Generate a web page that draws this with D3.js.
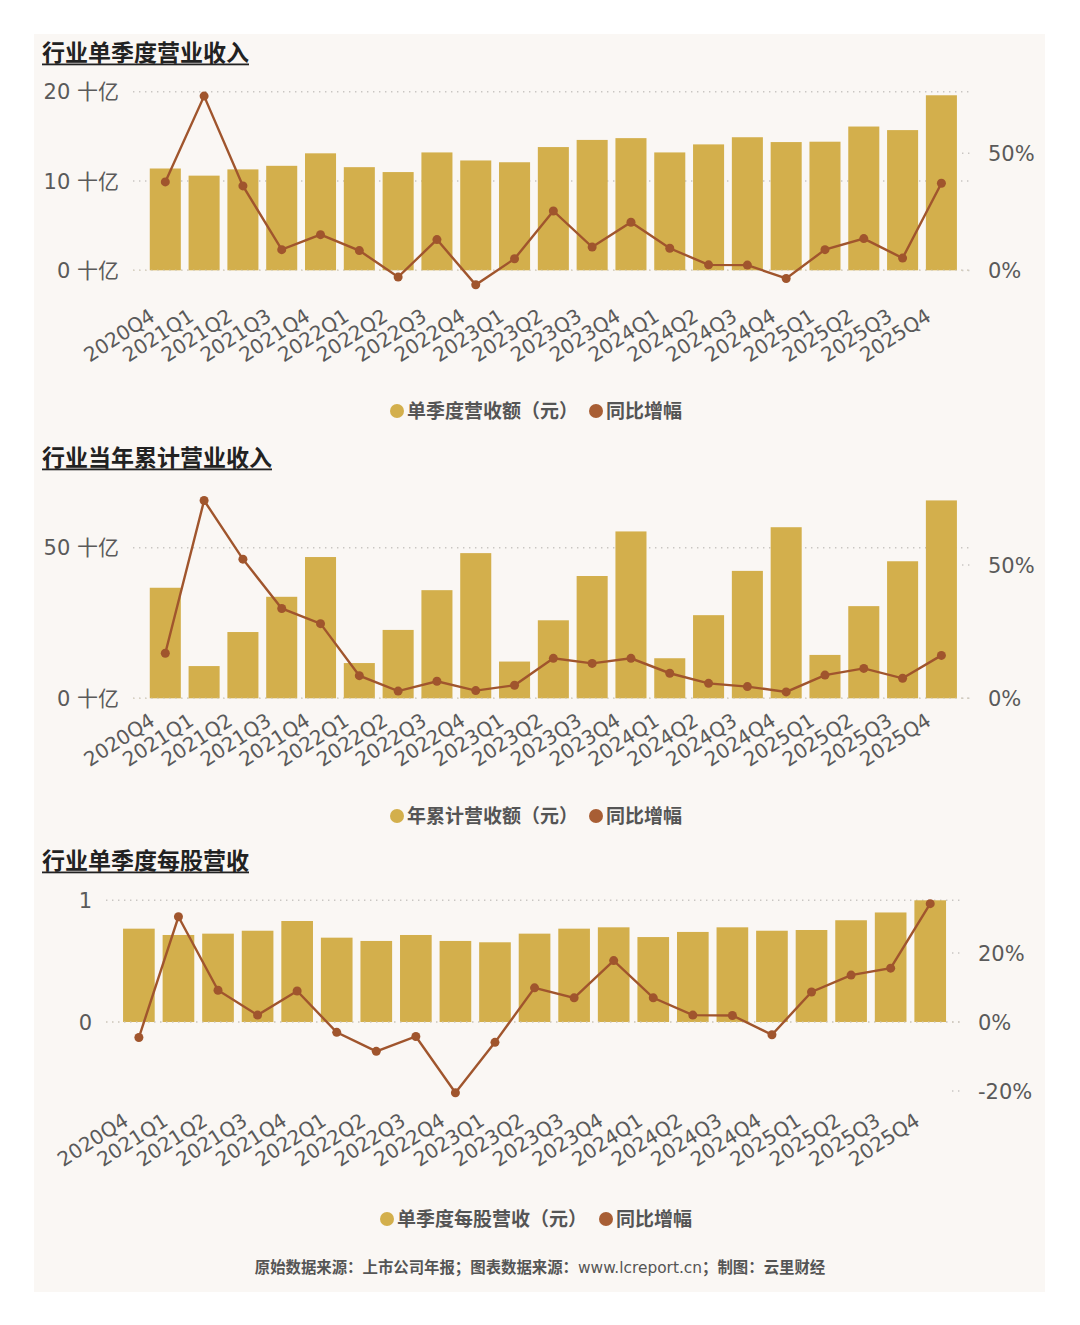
<!DOCTYPE html>
<html>
<head>
<meta charset="utf-8">
<script src="https://cdn.jsdelivr.net/npm/d3@7"></script>
<style>
  html, body { margin: 0; padding: 0; background: #ffffff; }
  svg { display: block; }
</style>
</head>
<body>
<svg id="chart" width="1080" height="1325"></svg>
<script>
// ---------------- DATA ----------------
const quarters = ["2020Q4","2021Q1","2021Q2","2021Q3","2021Q4","2022Q1","2022Q2","2022Q3","2022Q4",
  "2023Q1","2023Q2","2023Q3","2023Q4","2024Q1","2024Q2","2024Q3","2024Q4","2025Q1","2025Q2","2025Q3","2025Q4"];

// 单季度营收额 (十亿元)
const revQuarter = [11.4,10.6,11.3,11.7,13.1,11.55,11.0,13.2,12.3,12.1,13.8,14.6,14.8,13.2,14.1,14.9,14.36,14.4,16.1,15.7,19.6];
// 单季度营收同比增幅 (%)
const revQuarterYoy = [37.8,74.4,36.1,8.9,15.3,8.5,-2.8,13.2,-6.1,5.0,25.4,10.0,20.6,9.5,2.4,2.3,-3.4,8.9,13.6,5.3,37.2];

// 年累计营收额 (十亿元)
const revCum = [36.7,10.7,22.0,33.7,46.9,11.7,22.7,35.9,48.2,12.2,25.9,40.6,55.4,13.3,27.6,42.3,56.8,14.4,30.6,45.5,65.7];
// 年累计营收同比增幅 (%)
const revCumYoy = [16.9,74.2,52.2,33.7,28.0,8.5,2.7,6.4,2.9,4.9,15.0,13.1,15.0,9.4,5.6,4.4,2.4,8.7,11.2,7.5,16.1];

// 单季度每股营收 (元)
const epsQuarter = [0.767,0.715,0.726,0.75,0.83,0.693,0.666,0.715,0.666,0.655,0.726,0.767,0.778,0.698,0.74,0.778,0.75,0.756,0.836,0.90,1.0];
// 每股营收同比增幅 (%)
const epsQuarterYoy = [-4.5,30.5,9.2,2.0,9.0,-3.0,-8.5,-4.2,-20.5,-5.9,9.9,7.0,17.8,7.0,2.0,1.9,-3.7,8.7,13.6,15.6,34.3];

// tick labels
const ticksLeft1 = [0, 10, 20];
const ticksRight1 = [0, 50];
const ticksLeft2 = [0, 50];
const ticksRight2 = [0, 50];
const ticksLeft3 = [0, 1];
const ticksRight3 = [-20, 0, 20];

const titles = ["行业单季度营业收入", "行业当年累计营业收入", "行业单季度每股营收"];
const barLegends = ["单季度营收额（元）", "年累计营收额（元）", "单季度每股营收（元）"];
const lineLegend = "同比增幅";
const footerParts = ["原始数据来源：上市公司年报；图表数据来源：", "www.lcreport.cn", "；制图：云里财经"];

// ---------------- STYLE ----------------
const BAR = "#D3AF4C";
const LINE = "#A0552D";
const LEG_LINE = "#A85E34";
const GRID = "#c9c6c2";
const AXIS_TXT = "#5a5a5a";
const CJK = "'Noto Sans CJK SC', sans-serif";
const NUMF = "'DejaVu Sans', 'Noto Sans CJK SC', sans-serif";

const svg = d3.select("#chart");
svg.append("rect").attr("x", 34).attr("y", 34).attr("width", 1011).attr("height", 1258).attr("fill", "#FAF7F4");

function drawChart(o) {
  const g = svg.append("g");
  // title
  const t = g.append("text").attr("x", 42).attr("y", o.titleY)
    .attr("font-family", CJK).attr("font-weight", 700).attr("font-size", 23)
    .attr("fill", "#222").text(o.title);
  const tw = t.node().getComputedTextLength();
  g.append("rect").attr("x", 42).attr("y", o.titleY + 2.5).attr("width", tw).attr("height", 1.8).attr("fill", "#222");

  const x = d3.scaleBand().domain(quarters).range(o.xRange).paddingInner(0.2).paddingOuter(0.1);
  const yL = d3.scaleLinear().domain(o.leftDomain).range(o.leftRange);
  const yR = d3.scaleLinear().domain(o.rightDomain).range(o.rightRange);

  // grid lines (left axis)
  g.selectAll(".grid").data(o.leftTicks).join("line")
    .attr("x1", o.gridX[0]).attr("x2", o.gridX[1])
    .attr("y1", d => yL(d)).attr("y2", d => yL(d))
    .attr("stroke", GRID).attr("stroke-width", 1.4).attr("stroke-dasharray", "1.4,4.6");
  // left labels
  g.selectAll(".ll").data(o.leftTicks).join("text")
    .attr("x", o.leftLabelX).attr("y", d => yL(d)).attr("dy", "0.36em")
    .attr("text-anchor", "end").attr("font-family", NUMF).attr("font-size", 21)
    .attr("fill", AXIS_TXT).text(d => o.leftFmt(d));
  // right ticks
  g.selectAll(".rt").data(o.rightTicks).join("line")
    .attr("x1", o.gridX[1] - 10).attr("x2", o.gridX[1])
    .attr("y1", d => yR(d)).attr("y2", d => yR(d))
    .attr("stroke", GRID).attr("stroke-width", 1.4).attr("stroke-dasharray", "1.4,4.6");
  g.selectAll(".rl").data(o.rightTicks).join("text")
    .attr("x", o.rightLabelX).attr("y", d => yR(d)).attr("dy", "0.36em")
    .attr("text-anchor", "start").attr("font-family", NUMF).attr("font-size", 21)
    .attr("fill", AXIS_TXT).text(d => d + "%");

  // bars
  g.selectAll(".bar").data(o.bars).join("rect")
    .attr("x", (d, i) => x(quarters[i])).attr("width", x.bandwidth())
    .attr("y", d => yL(d)).attr("height", d => yL(0) - yL(d))
    .attr("fill", BAR);
  // zero line over bars
  g.append("line").attr("x1", o.gridX[0]).attr("x2", o.gridX[1])
    .attr("y1", yL(0)).attr("y2", yL(0))
    .attr("stroke", "#d9d2c0").attr("stroke-width", 1.2).attr("stroke-dasharray", "1.4,4.6");

  // line
  const cx = (d, i) => x(quarters[i]) + x.bandwidth() / 2;
  const lineGen = d3.line().x(cx).y(d => yR(d));
  g.append("path").datum(o.line).attr("d", lineGen)
    .attr("fill", "none").attr("stroke", LINE).attr("stroke-width", 2.4);
  g.selectAll(".pt").data(o.line).join("circle")
    .attr("cx", cx).attr("cy", d => yR(d)).attr("r", 4.5).attr("fill", LINE);

  // x labels
  g.selectAll(".xl").data(quarters).join("text")
    .attr("transform", d => `translate(${x(d) + x.bandwidth() / 2 - 9},${o.labelBase}) rotate(-33)`)
    .attr("text-anchor", "end").attr("font-family", NUMF).attr("font-size", 20)
    .attr("fill", AXIS_TXT).text(d => d);

  // legend
  const lg = g.append("g").attr("transform", `translate(0,${o.legendY})`);
  lg.append("circle").attr("cx", o.legendX[0]).attr("cy", 0).attr("r", 7).attr("fill", BAR);
  lg.append("text").attr("x", o.legendX[0] + 10).attr("y", 0).attr("dy", "0.36em")
    .attr("font-family", CJK).attr("font-weight", 700).attr("font-size", 19).attr("fill", "#555").text(o.barLegend);
  lg.append("circle").attr("cx", o.legendX[1]).attr("cy", 0).attr("r", 7).attr("fill", LEG_LINE);
  lg.append("text").attr("x", o.legendX[1] + 10).attr("y", 0).attr("dy", "0.36em")
    .attr("font-family", CJK).attr("font-weight", 700).attr("font-size", 19).attr("fill", "#555").text(lineLegend);
}

drawChart({
  title: titles[0], titleY: 61,
  bars: revQuarter, line: revQuarterYoy,
  xRange: [145.9, 960.8], gridX: [133, 972],
  leftDomain: [0, 20], leftRange: [270.3, 91.7], leftTicks: ticksLeft1, leftFmt: d => d + " 十亿", leftLabelX: 119,
  rightDomain: [0, 50], rightRange: [270.5, 153.3], rightTicks: ticksRight1, rightLabelX: 988,
  labelBase: 319.5, legendY: 411, legendX: [397, 596], barLegend: barLegends[0]
});
drawChart({
  title: titles[1], titleY: 466,
  bars: revCum, line: revCumYoy,
  xRange: [145.9, 960.8], gridX: [133, 972],
  leftDomain: [0, 50], leftRange: [698.3, 547.7], leftTicks: ticksLeft2, leftFmt: d => d + " 十亿", leftLabelX: 119,
  rightDomain: [0, 50], rightRange: [698.3, 565], rightTicks: ticksRight2, rightLabelX: 988,
  labelBase: 724, legendY: 816, legendX: [397, 596], barLegend: barLegends[1]
});
drawChart({
  title: titles[2], titleY: 869,
  bars: epsQuarter, line: epsQuarterYoy,
  xRange: [119.1, 950], gridX: [106, 962],
  leftDomain: [0, 1], leftRange: [1022, 900.3], leftTicks: ticksLeft3, leftFmt: d => String(d), leftLabelX: 92,
  rightDomain: [0, 20], rightRange: [1022, 953], rightTicks: ticksRight3, rightLabelX: 978,
  labelBase: 1124, legendY: 1219, legendX: [387, 606], barLegend: barLegends[2]
});

// footer
const ft = svg.append("text").attr("x", 540).attr("y", 1267).attr("dy", "0.36em").attr("text-anchor", "middle")
  .attr("font-family", CJK).attr("font-size", 15.4).attr("fill", "#555");
ft.append("tspan").attr("font-weight", 700).text(footerParts[0]);
ft.append("tspan").attr("font-family", NUMF).attr("font-weight", 400).text(footerParts[1]);
ft.append("tspan").attr("font-weight", 700).text(footerParts[2]);
</script>
</body>
</html>
